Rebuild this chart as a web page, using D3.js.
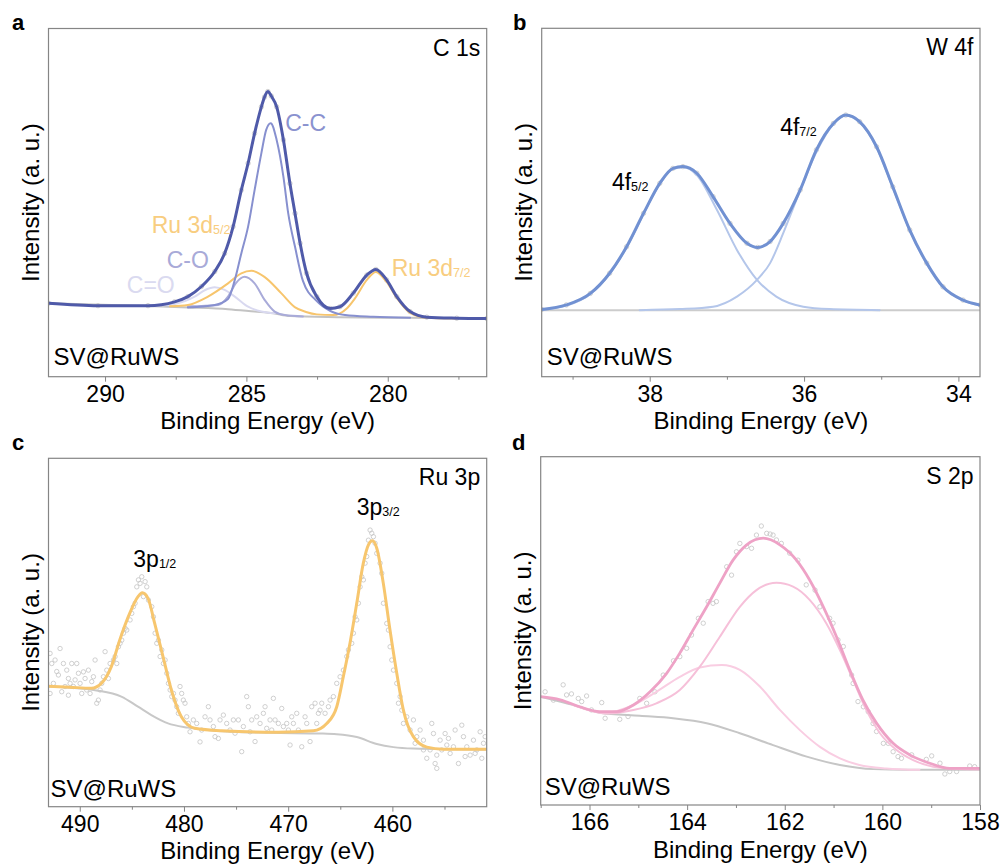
<!DOCTYPE html>
<html>
<head>
<meta charset="utf-8">
<script src="https://cdn.jsdelivr.net/npm/d3@7"></script>
<style>
  body { margin: 0; background: #fff; }
  svg { display: block; font-family: "Liberation Sans", Arial, sans-serif; }
</style>
</head>
<body>
<svg id="chart" width="1004" height="867"></svg>
<script>
// --- DATA (binding energy in eV, intensity in a.u. 0-100 of the frame) ---

// a: C 1s
const c1sTicks = [290, 285, 280];
const c1sMinor = [287.5, 282.5, 277.5];
const c1sEnvelope = [[292.00,21.1],[290.25,20.4],[288.48,20.4],[287.54,21.5],[287.07,23.0],[286.59,25.9],[286.12,30.2],[285.77,35.4],[285.47,43.1],[285.18,53.6],[284.94,61.3],[284.71,69.9],[284.47,77.5],[284.36,80.3],[284.24,81.9],[284.12,80.6],[283.93,77.5],[283.69,68.0],[283.46,55.5],[283.28,46.9],[283.10,38.3],[282.87,29.7],[282.51,23.0],[282.04,19.6],[281.69,20.1],[281.22,24.0],[280.74,29.2],[280.42,30.8],[280.04,27.8],[279.68,23.0],[279.21,18.7],[278.62,17.1],[277.56,16.8],[276.50,16.7]];
const c1sCC = [[287.07,19.9],[286.12,20.6],[285.65,22.3],[285.41,27.8],[285.18,35.4],[284.94,43.1],[284.71,53.6],[284.47,64.2],[284.30,70.9],[284.14,72.8],[283.93,68.0],[283.69,57.4],[283.52,46.9],[283.28,37.3],[283.00,27.5],[282.51,21.7],[282.04,18.9],[281.51,17.7],[280.52,17.2],[279.21,16.9]];
const c1sCO = [[287.07,20.2],[286.00,20.6],[285.65,23.0],[285.37,26.9],[285.06,28.7],[284.71,26.8],[284.35,22.0],[284.00,18.7],[283.64,17.7],[283.00,17.3]];
const c1sCdO = [[288.41,20.3],[287.54,20.9],[286.83,23.0],[286.46,24.9],[286.12,25.7],[285.79,25.0],[285.41,23.0],[284.94,20.1],[284.47,18.7],[283.99,18.2]];
const c1sRu = [[287.70,20.2],[287.07,20.6],[286.36,23.0],[285.65,26.8],[285.18,29.7],[284.82,30.4],[284.35,28.6],[283.77,24.0],[283.29,20.0],[282.89,18.6],[282.51,17.9],[281.93,17.7],[281.45,19.6],[281.16,22.5],[280.74,27.8],[280.42,30.1],[280.04,27.2],[279.68,22.6],[279.21,18.3],[278.62,16.9],[277.56,16.7]];
const c1sBase = [[292.00,21.1],[288.48,20.3],[287.07,19.9],[285.65,19.4],[284.71,18.7],[284.05,18.2],[283.46,17.4],[281.69,17.1],[279.33,16.9],[276.50,16.7]];

// b: W 4f
const w4fTicks = [38, 36, 34];
const w4fMinor = [39, 37, 35];
const w4fEnvelope = [[39.40,19.3],[39.08,20.6],[38.77,23.9],[38.52,29.7],[38.30,37.3],[38.08,46.9],[37.87,55.5],[37.70,59.8],[37.57,60.3],[37.39,58.4],[37.18,51.7],[36.96,44.0],[36.74,38.3],[36.60,37.1],[36.44,38.8],[36.27,44.0],[36.05,53.6],[35.84,65.1],[35.62,72.7],[35.46,75.1],[35.28,73.2],[35.06,66.0],[34.85,54.5],[34.63,42.1],[34.41,32.6],[34.20,25.8],[33.94,22.0],[33.72,20.6]];
const w4f52 = [[39.40,19.2],[39.08,20.4],[38.77,23.7],[38.52,29.5],[38.30,37.1],[38.08,46.7],[37.87,55.3],[37.70,59.6],[37.57,60.1],[37.39,57.9],[37.13,47.9],[36.87,36.4],[36.61,27.8],[36.36,23.0],[36.01,20.1],[35.67,19.4],[35.02,19.1]];
const w4f72 = [[38.13,19.1],[37.61,19.4],[37.18,20.1],[36.87,23.0],[36.61,27.8],[36.44,32.6],[36.27,41.2],[36.10,50.7],[35.84,64.5],[35.62,72.5],[35.46,75.0],[35.28,73.0],[35.06,65.8],[34.85,54.3],[34.63,42.0],[34.41,32.4],[34.20,25.8],[33.94,21.9],[33.72,20.4]];
const w4fBase = [[39.40,19.1],[33.72,19.1]];

// c: Ru 3p
const ru3pTicks = [490, 480, 470, 460];
const ru3pMinor = [485, 475, 465, 455];
const ru3pFit = [[493.00,34.6],[490.94,34.3],[488.89,34.0],[487.93,35.4],[486.97,40.2],[486.17,47.8],[485.21,55.5],[484.41,60.3],[484.00,61.4],[483.45,59.8],[482.81,52.6],[482.01,43.1],[481.21,33.5],[480.25,25.8],[478.97,22.5],[476.42,21.8],[470.97,21.4],[467.59,21.8],[466.30,23.9],[465.34,28.7],[464.71,37.3],[464.07,46.9],[463.42,58.4],[462.79,69.9],[462.31,75.1],[461.92,76.3],[461.50,74.2],[460.87,64.1],[460.23,50.7],[459.58,38.3],[458.95,27.8],[457.99,20.1],[456.70,17.1],[455.11,16.5],[450.95,16.5]];
const ru3pBase = [[493.00,34.5],[488.25,33.3],[486.01,31.6],[484.41,28.7],[483.13,26.3],[481.53,23.9],[479.61,22.7],[477.05,21.8],[471.74,21.2],[466.94,21.0],[465.34,20.8],[463.42,20.0],[461.50,18.0],[459.91,17.1],[457.99,16.7],[450.95,16.4]];
const ru3pRaw = [
  [492.85,44.0],[492.69,41.1],[492.37,42.1],[491.89,45.4],[491.57,41.1],[491.25,39.2],[491.09,36.8],[490.93,35.4],[490.77,41.1],[490.45,36.4],
  [490.29,41.1],[489.97,35.4],[489.65,38.7],[489.49,36.8],[489.17,39.2],[489.01,32.5],[488.69,37.3],[488.53,42.1],[488.37,29.7],[488.05,33.5],
  [487.73,37.3],[487.57,44.5],[487.41,39.2],[487.09,41.1],[486.77,42.1],[492.85,32.5],[492.53,35.4],[492.05,37.8],[491.73,33.0],[491.41,34.5],
  [491.09,32.0],[490.61,34.5],[489.81,32.5],[489.33,33.5],[488.21,30.6],[492.21,38.8],[490.13,38.3],[488.85,35.9],[487.89,35.4],[487.25,36.8],
  [486.61,43.1],[486.29,45.9],[486.13,46.9],[485.81,49.8],[485.65,51.2],[485.49,50.7],[485.17,53.6],[485.01,55.5],[484.85,57.4],[484.69,58.4],
  [484.53,63.1],[484.37,65.1],[484.21,64.1],[484.05,66.0],[483.89,60.3],[483.73,64.6],[483.57,63.1],[486.45,41.1],[485.97,47.8],
  [483.41,59.3],[483.09,57.4],[482.93,54.5],[482.77,49.8],[482.61,46.9],[482.45,47.8],[482.29,43.1],[482.13,45.0],[481.97,41.1],[481.81,42.1],
  [481.65,38.3],[481.49,35.4],[481.33,33.5],[481.17,31.6],[481.01,32.5],[480.86,30.6],[480.70,28.7],[480.54,26.8],[480.38,34.5],[480.22,32.5],
  [480.06,30.6],[479.90,29.7],[479.74,25.8],[479.58,23.9],[479.42,21.5],[479.10,24.9],
  [478.78,23.9],[478.46,18.6],[478.30,22.0],[477.98,25.8],[477.66,28.7],[477.50,24.9],[477.18,23.0],[477.02,20.1],[476.70,19.6],[476.54,24.9],
  [476.22,26.3],[475.90,23.9],[475.58,22.0],[475.26,24.9],[475.10,21.1],[474.78,24.9],[474.46,15.8],[474.30,23.0],[473.98,31.6],[473.82,28.7],
  [473.66,21.5],[473.50,24.9],[473.18,18.7],[473.02,25.8],[472.70,23.9],[472.38,26.8],[472.22,28.7],[472.06,22.5],[471.74,24.9],[471.58,22.0],
  [471.42,31.1],[471.26,24.9],[470.94,23.9],[470.62,28.2],[470.46,23.0],[470.14,23.9],[469.98,22.0],[469.82,17.7],[469.66,25.8],[469.50,23.9],
  [469.18,26.8],[469.02,22.0],[468.70,17.2],[468.38,25.8],[468.22,23.9],[467.90,18.7],[467.74,28.7],[467.42,29.7],[467.26,23.9],[467.10,26.8],
  [466.94,27.7],[466.78,29.7],[466.46,26.8],[466.14,28.7],[465.98,30.6],
  [465.66,31.6],[465.34,35.4],[465.02,37.3],[464.70,39.2],[464.38,43.1],[464.22,45.0],[463.90,46.9],[463.74,49.8],[463.58,54.5],[463.42,53.6],
  [463.26,58.4],[463.10,63.1],[462.94,66.0],[462.78,65.1],[462.62,69.9],[462.46,71.8],[462.30,76.5],[462.14,79.4],[461.98,78.5],[461.82,77.5],
  [461.66,75.6],[461.50,72.7],[461.18,69.9],[461.02,67.0],[460.86,58.4],[460.54,52.6],[460.38,50.7],[460.22,45.9],[460.06,42.1],[459.90,39.2],
  [459.58,35.4],[459.42,29.7],[459.26,31.6],[459.10,27.7],[458.94,23.9],[458.62,25.8],[458.30,22.0],[457.98,24.9],[457.82,18.2],[457.66,20.1],
  [457.34,22.0],[457.02,19.1],[456.70,13.9],[456.38,16.3],[456.22,23.9],[456.06,21.0],[455.90,12.4],[455.74,11.0],[455.42,19.1],[455.26,16.3],
  [454.94,21.0],[454.78,17.7],[454.46,15.3],[454.14,17.2],[453.98,22.0],[453.66,12.4],[453.34,23.4],[453.18,20.1],[452.86,17.2],[452.54,14.8],
  [452.22,19.1],[451.90,16.3],[451.58,21.5],[451.42,13.9],[451.26,18.2],[451.10,20.1],[457.02,16.3],[455.74,14.8],[454.62,19.6],[453.02,14.4],
  [452.06,15.3]
];

// d: S 2p
const s2pTicks = [166, 164, 162, 160, 158];
const s2pMinor = [167, 165, 163, 161, 159];
const s2pEnvelope = [[167.00,31.1],[166.60,30.2],[166.20,28.2],[165.79,26.8],[165.44,26.8],[165.10,28.7],[164.76,32.5],[164.42,37.8],[164.15,43.6],[163.88,50.2],[163.60,56.9],[163.33,63.7],[163.06,70.3],[162.78,74.7],[162.44,76.6],[162.10,74.7],[161.76,70.3],[161.49,64.6],[161.21,56.9],[160.94,48.3],[160.67,38.8],[160.40,30.2],[160.12,23.5],[159.78,17.7],[159.44,14.4],[159.03,12.0],[158.62,10.5],[158.01,10.5]];
const s2pMain = [[166.33,28.7],[165.65,26.3],[165.10,27.3],[164.63,29.2],[164.15,33.0],[163.74,39.7],[163.33,48.3],[162.92,56.9],[162.58,61.7],[162.17,63.8],[161.83,62.7],[161.49,58.9],[161.15,52.2],[160.87,44.5],[160.60,35.9],[160.33,27.3],[160.05,20.6],[159.71,15.8],[159.37,12.9],[158.96,11.0],[158.48,10.4],[158.01,10.2]];
const s2pMinorPeak = [[166.33,28.7],[165.65,26.5],[165.10,28.7],[164.63,32.5],[164.15,36.8],[163.74,39.5],[163.29,40.2],[162.92,38.8],[162.51,34.0],[162.10,27.3],[161.69,21.5],[161.28,16.7],[160.87,13.4],[160.47,11.5],[159.92,10.5],[159.24,10.1]];
const s2pBase = [[167.00,31.1],[166.33,28.7],[165.79,26.5],[164.97,25.6],[164.29,24.9],[163.60,23.5],[162.92,20.6],[162.24,17.2],[161.55,13.9],[160.87,11.5],[160.19,10.3],[159.51,10.1],[158.01,10.1]];
const s2pRaw = [
  [166.91,32.5],[166.74,30.1],[166.54,34.5],[166.47,31.6],[166.37,31.9],[166.23,30.6],[166.16,29.7],[166.06,31.3],[165.96,27.3],[165.75,29.4],
  [165.68,24.9],[165.38,24.6],[165.21,25.4],[164.97,30.6],[164.83,29.2],[164.66,32.5],[164.49,37.3],[164.28,41.4],[164.15,42.6],[164.01,45.0],
  [163.91,48.8],[163.77,53.6],[163.67,52.2],[163.57,58.4],[163.47,57.9],[163.40,58.4],[163.19,68.4],[163.09,66.0],[162.99,72.7],[162.92,75.1],
  [162.78,74.2],[162.68,73.7],[162.58,77.5],[162.48,80.1],[162.37,78.0],[162.30,77.8],[162.24,77.5],[162.17,76.1],[162.07,75.1],[161.90,72.3],
  [161.73,70.3],[161.56,63.2],[161.38,61.7],[161.28,56.9],[161.08,53.6],[161.01,52.2],[160.91,47.4],[160.80,45.5],[160.63,37.3],[160.60,34.9],
  [160.50,29.7],[160.39,28.2],[160.29,26.8],[160.19,23.4],[160.12,21.1],[159.98,17.7],[159.88,17.7],[159.78,15.3],[159.68,13.9],[159.61,13.4],
  [159.40,14.4],[159.10,13.1],[158.99,14.1],[158.82,12.0],[158.72,8.9],[158.62,9.6],[158.48,9.6],[158.21,11.2],[158.11,11.0]
];

// --- PANEL SETUP (layout and styles) ---
const GREY = '#c3c3c3';
const panels = [
  {
    letter: 'a', letterPos: [12, 30], title: 'C 1s',
    left: 48.5, top: 28.5, width: 438.2, height: 348.2, xDomain: [292.0, 276.5],
    ticks: c1sTicks, minor: c1sMinor, raw: c1sEnvelope, svPos: [5, -12],
    lines: [
      { data: c1sBase, color: GREY, width: 2 },
      { data: c1sCdO, color: '#d9d9f0', width: 2 },
      { data: c1sCO, color: '#a9abd9', width: 2 },
      { data: c1sRu, color: '#f7c56d', width: 2 },
      { data: c1sCC, color: '#8790cf', width: 2 },
      { data: c1sEnvelope, color: '#4f5aa9', width: 3 }
    ],
    labels: [
      { at: [283.63, 70.6], main: 'C-C', color: '#8a92cf' },
      { at: [288.35, 41.2], main: 'Ru 3d', sub: '5/2', color: '#f8cd80' },
      { at: [287.82, 31.1], main: 'C-O', color: '#a8aad8' },
      { at: [289.23, 24.0], main: 'C=O', color: '#dadaf0' },
      { at: [279.86, 28.9], main: 'Ru 3d', sub: '7/2', color: '#f8cd80' }
    ]
  },
  {
    letter: 'b', letterPos: [513, 30], title: 'W 4f',
    left: 541.7, top: 28.3, width: 438.3, height: 348.4, xDomain: [39.40, 33.72],
    ticks: w4fTicks, minor: w4fMinor, raw: w4fEnvelope, svPos: [5, -12],
    lines: [
      { data: w4fBase, color: '#cccccc', width: 2 },
      { data: w4f52, color: '#b4c6ea', width: 2 },
      { data: w4f72, color: '#b4c6ea', width: 2 },
      { data: w4fEnvelope, color: '#7191d2', width: 3 }
    ],
    labels: [
      { at: [38.49, 53.6], main: '4f', sub: '5/2', color: '#000' },
      { at: [36.31, 69.4], main: '4f', sub: '7/2', color: '#000' }
    ]
  },
  {
    letter: 'c', letterPos: [12, 450], title: 'Ru 3p',
    left: 48.5, top: 458.3, width: 438.2, height: 348.4, xDomain: [493.0, 450.95],
    ticks: ru3pTicks, minor: ru3pMinor, raw: ru3pRaw, svPos: [2, -10],
    lines: [
      { data: ru3pBase, color: '#c8c8c8', width: 2 },
      { data: ru3pFit, color: '#f7c66e', width: 3 }
    ],
    labels: [
      { at: [484.86, 68.9], main: '3p', sub: '1/2', color: '#000' },
      { at: [463.42, 83.7], main: '3p', sub: '3/2', color: '#000' }
    ]
  },
  {
    letter: 'd', letterPos: [512, 450], title: 'S 2p',
    left: 540.7, top: 456.7, width: 439.3, height: 348.3, xDomain: [167.0, 158.0],
    ticks: s2pTicks, minor: s2pMinor, raw: s2pRaw, svPos: [4, -10],
    lines: [
      { data: s2pBase, color: '#c6c6c6', width: 2 },
      { data: s2pMinorPeak, color: '#f9cde2', width: 2 },
      { data: s2pMain, color: '#f6c0d9', width: 2 },
      { data: s2pEnvelope, color: '#eea2c6', width: 2.8 }
    ],
    labels: []
  }
];

// --- DRAWING ---
const svg = d3.select('#chart');
svg.append('rect').attr('width', 1004).attr('height', 867).attr('fill', '#fff');

function drawPanel(p) {
  const x = d3.scaleLinear().domain(p.xDomain).range([p.left, p.left + p.width]);
  const y = d3.scaleLinear().domain([0, 100]).range([p.top + p.height, p.top]);
  const g = svg.append('g');

  const clipId = 'clip-' + p.letter;
  svg.append('clipPath').attr('id', clipId).append('rect')
    .attr('x', p.left).attr('y', p.top).attr('width', p.width).attr('height', p.height);
  const plot = g.append('g').attr('clip-path', `url(#${clipId})`);

  // raw data circles
  plot.selectAll('circle').data(p.raw).join('circle')
    .attr('cx', d => x(d[0])).attr('cy', d => y(d[1])).attr('r', 2.2)
    .attr('fill', 'none').attr('stroke', '#c4c4c4').attr('stroke-width', 0.8);

  // fitted curves
  const line = d3.line().x(d => x(d[0])).y(d => y(d[1])).curve(d3.curveMonotoneX);
  p.lines.forEach(l => {
    plot.append('path').datum(l.data)
      .attr('fill', 'none').attr('stroke', l.color).attr('stroke-width', l.width)
      .attr('stroke-linejoin', 'round').attr('stroke-linecap', 'round').attr('d', line);
  });

  // frame
  g.append('rect').attr('x', p.left).attr('y', p.top).attr('width', p.width).attr('height', p.height)
    .attr('fill', 'none').attr('stroke', '#858585').attr('stroke-width', 1.2);

  // bottom axis: major + minor ticks
  const major = g.append('g').attr('transform', `translate(0,${p.top + p.height})`)
    .call(d3.axisBottom(x).tickValues(p.ticks).tickSize(5).tickPadding(4).tickFormat(d3.format('d')));
  major.attr('font-size', 23).attr('font-family', null);
  major.select('.domain').remove();
  major.selectAll('line').attr('stroke', '#858585');
  major.selectAll('text').attr('fill', '#000');

  const minor = g.append('g').attr('transform', `translate(0,${p.top + p.height})`)
    .call(d3.axisBottom(x).tickValues(p.minor).tickSize(3).tickFormat(''));
  minor.select('.domain').remove();
  minor.selectAll('line').attr('stroke', '#858585');

  // axis titles
  g.append('text').attr('x', p.left + p.width / 2).attr('y', p.top + p.height + 52.5)
    .attr('text-anchor', 'middle').attr('font-size', 24).text('Binding Energy (eV)');
  g.append('text')
    .attr('transform', `translate(${p.left - 10},${p.top + p.height / 2}) rotate(-90)`)
    .attr('text-anchor', 'middle').attr('font-size', 24).text('Intensity (a. u.)');

  // panel texts
  g.append('text').attr('x', p.letterPos[0]).attr('y', p.letterPos[1])
    .attr('font-size', 22).attr('font-weight', 'bold').text(p.letter);
  g.append('text').attr('x', p.left + p.width - 6.5).attr('y', p.top + 27)
    .attr('text-anchor', 'end').attr('font-size', 23).text(p.title);
  g.append('text').attr('x', p.left + p.svPos[0]).attr('y', p.top + p.height + p.svPos[1])
    .attr('font-size', 24).text('SV@RuWS');

  // peak labels
  p.labels.forEach(l => {
    const t = g.append('text').attr('x', x(l.at[0])).attr('y', y(l.at[1]))
      .attr('font-size', 23).attr('fill', l.color);
    t.append('tspan').text(l.main);
    if (l.sub) t.append('tspan').attr('font-size', 12.5).attr('dy', 1).text(l.sub);
  });
}

panels.forEach(drawPanel);
</script>
</body>
</html>
